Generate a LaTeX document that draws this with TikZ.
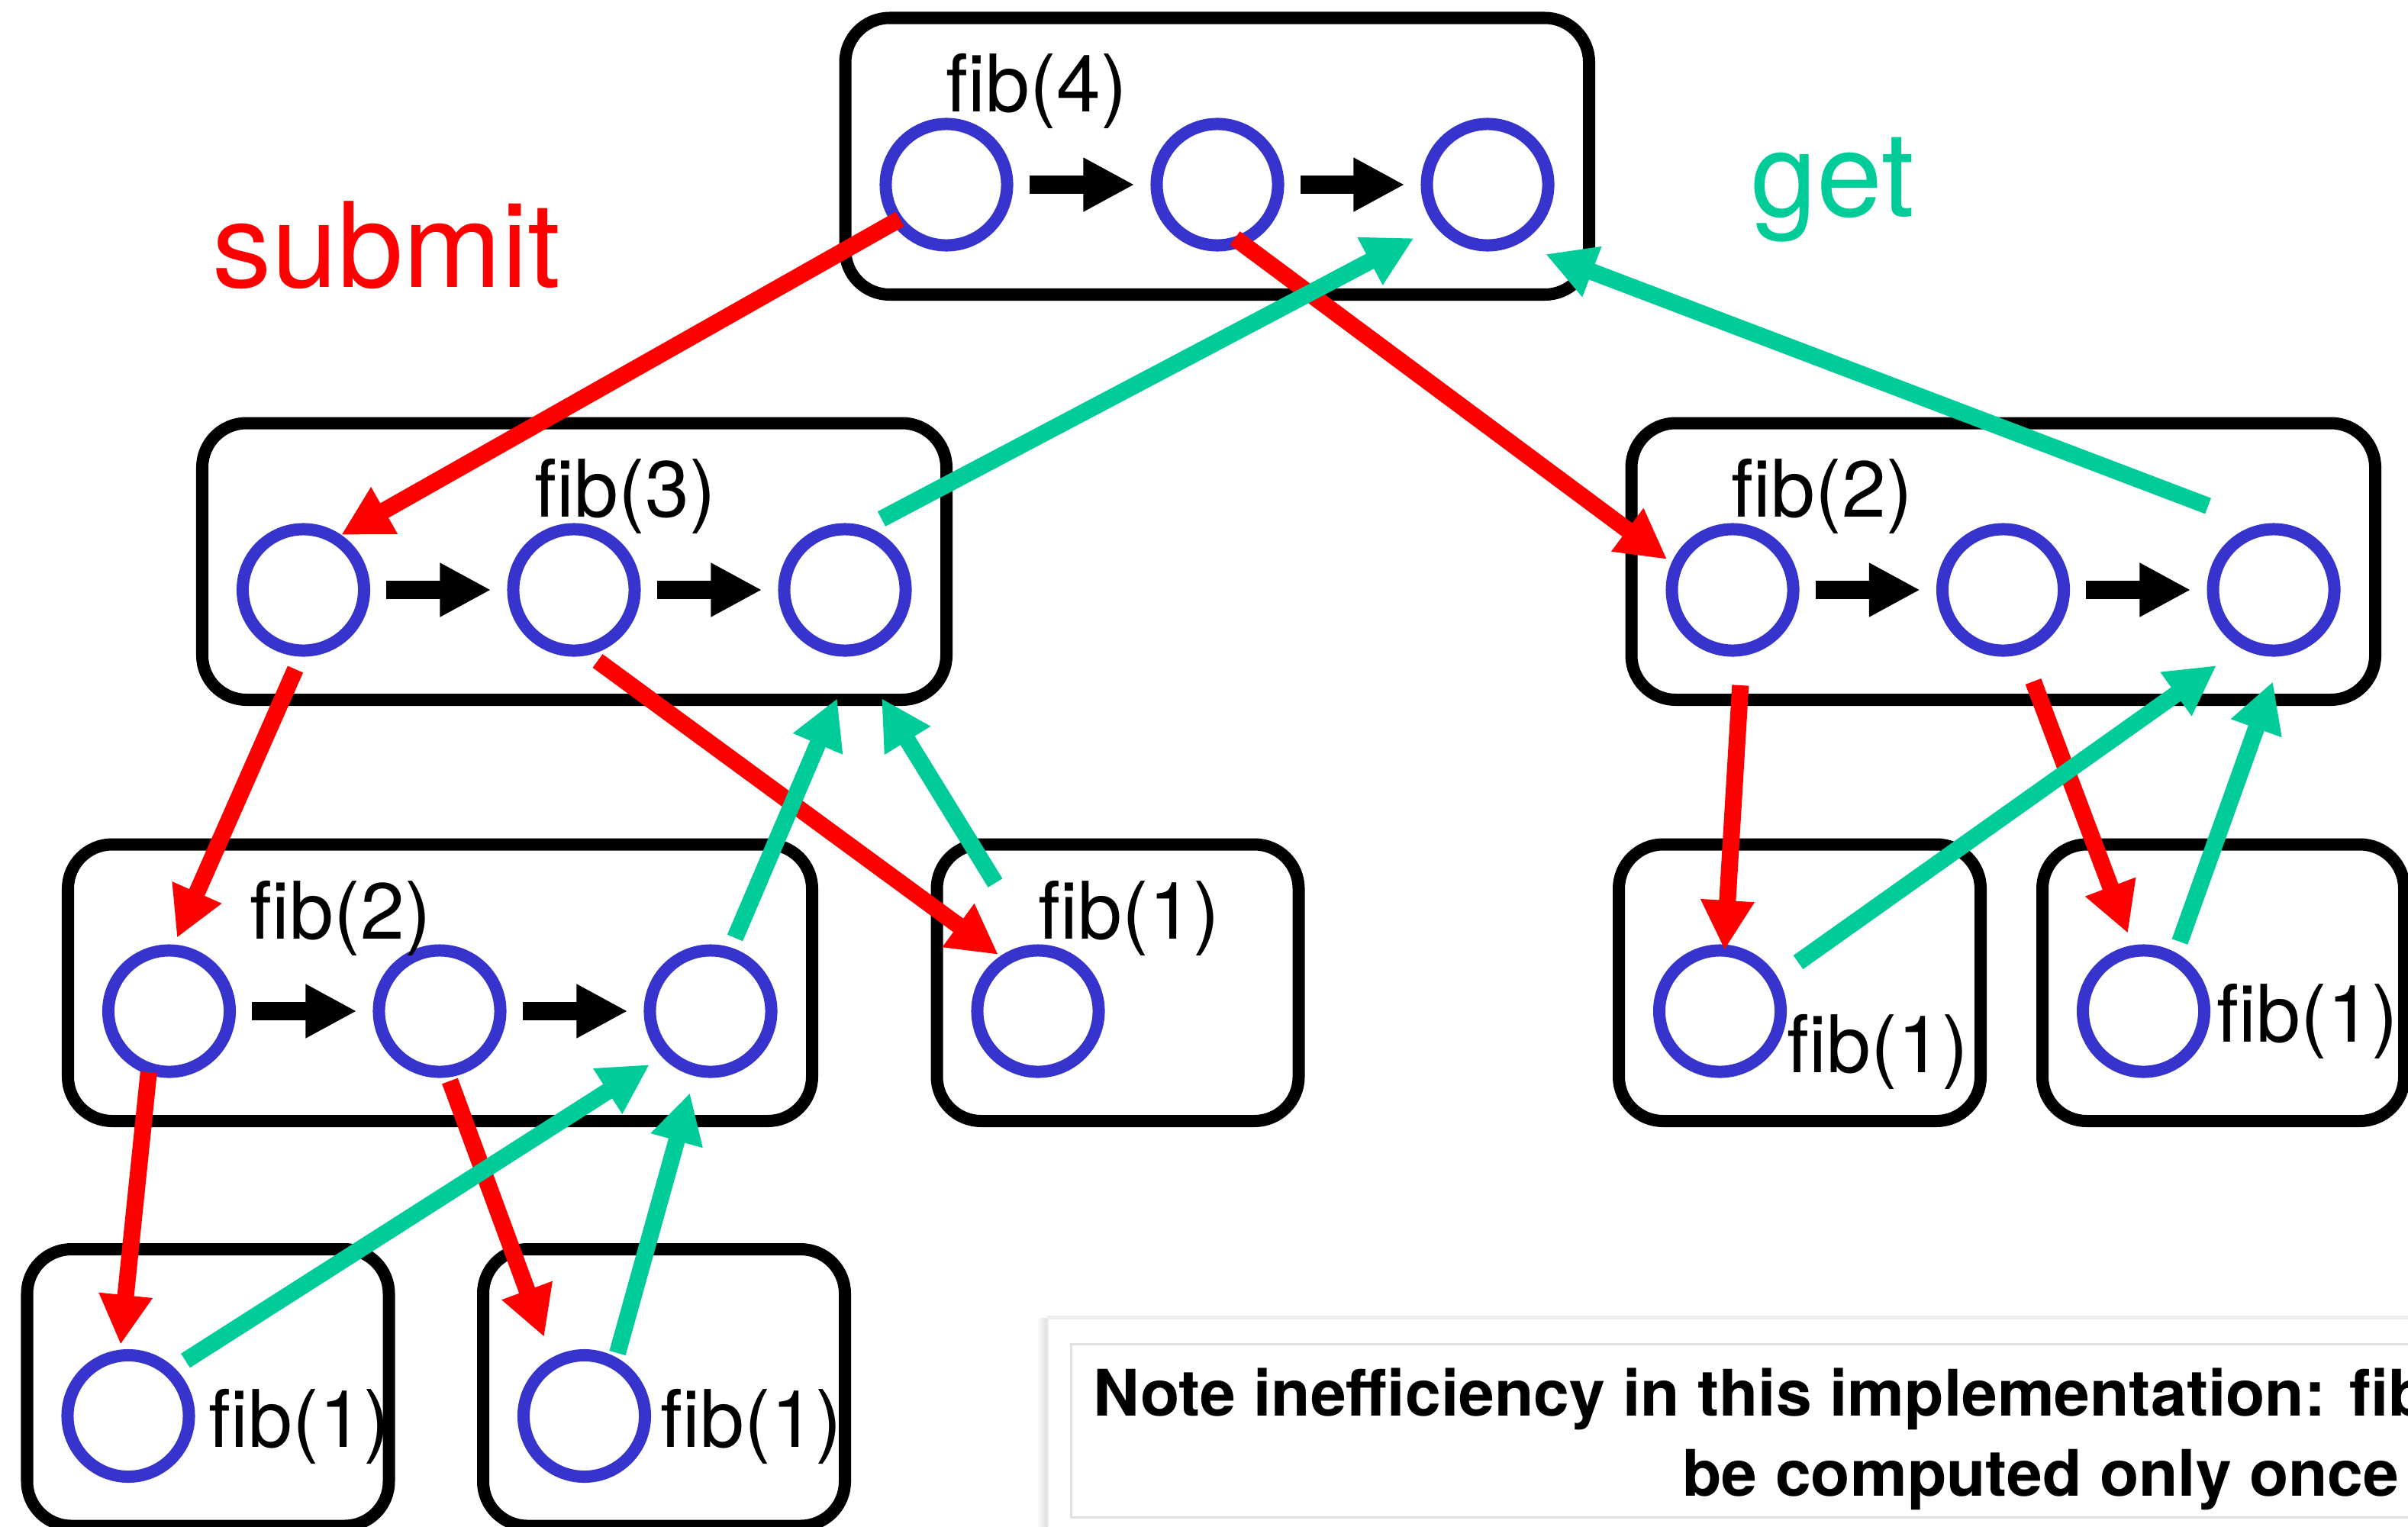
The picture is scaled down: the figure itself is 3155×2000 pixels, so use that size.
\documentclass[tikz,border=0pt]{standalone}
\usepackage{fontspec}
\setmainfont{TeX Gyre Heros}
\usetikzlibrary{arrows.meta,calc}
\definecolor{subred}{RGB}{255,0,0}
\definecolor{getgreen}{RGB}{0,204,153}
\definecolor{futblue}{RGB}{54,52,204}
\begin{document}
\begin{tikzpicture}[x=0.01cm,y=-0.01cm,
  fut/.style={circle,draw=futblue,line width=0.16cm,minimum size=1.59cm,inner sep=0pt},
  frame/.style={draw=black,line width=0.16cm,rounded corners=0.58cm},
  seq/.style={draw=black,line width=0.24cm,-{Triangle[width=0.66cm,length=0.67cm]},
              shorten <=0.21cm,shorten >=0.21cm},
  submitarrow/.style={draw=subred,line width=0.22cm,-{Triangle[width=0.66cm,length=0.65cm]}},
  getarrow/.style={draw=getgreen,line width=0.22cm,-{Triangle[width=0.66cm,length=0.65cm]}},
  lab/.style={anchor=base west,inner sep=0pt,font=\fontsize{29.6}{32}\selectfont},
  big/.style={anchor=base west,inner sep=0pt,font=\fontsize{44}{48}\selectfont},
  notetext/.style={inner sep=0pt,font=\bfseries\fontsize{23.9}{28}\selectfont}]

\useasboundingbox (0,0) rectangle (3155,2000);
\clip (0,0) rectangle (3155,2000);
\fill[white] (0,0) rectangle (3155,2000);

% task circles
\node[fut] (A1) at (1240,242) {};
\node[fut] (A2) at (1595,242) {};
\node[fut] (A3) at (1949,242) {};
\node[fut] (B1) at (397.5,773) {};
\node[fut] (B2) at (752,773) {};
\node[fut] (B3) at (1107,773) {};
\node[fut] (C1) at (2270,773) {};
\node[fut] (C2) at (2624.5,773) {};
\node[fut] (C3) at (2979,773) {};
\node[fut] (D1) at (221.5,1325) {};
\node[fut] (D2) at (576,1325) {};
\node[fut] (D3) at (931,1325) {};
\node[fut] (E1) at (1360,1325) {};
\node[fut] (F1) at (168,1855.5) {};
\node[fut] (G1) at (765.5,1855.5) {};
\node[fut] (H1) at (2253.5,1325) {};
\node[fut] (I1) at (2808.5,1325) {};

% frames round each call
\draw[frame] ($(A1)+(-132.5,-218.5)$) rectangle ($(A3)+(133,144)$);
\draw[frame] ($(B1)+(-132.5,-218.5)$) rectangle ($(B3)+(133,144)$);
\draw[frame] ($(C1)+(-132.5,-218.5)$) rectangle ($(C3)+(133,144)$);
\draw[frame] ($(D1)+(-132.5,-218.5)$) rectangle ($(D3)+(133,144)$);
\foreach \n in {E1,F1,G1,H1,I1}
  \draw[frame] ($(\n)+(-132.5,-218.5)$) rectangle ($(\n)+(341.5,144)$);

% sequence inside a call
\draw[seq] (A1.east) -- (A2.west);
\draw[seq] (A2.east) -- (A3.west);
\draw[seq] (B1.east) -- (B2.west);
\draw[seq] (B2.east) -- (B3.west);
\draw[seq] (C1.east) -- (C2.west);
\draw[seq] (C2.east) -- (C3.west);
\draw[seq] (D1.east) -- (D2.west);
\draw[seq] (D2.east) -- (D3.west);

% labels
\node[lab] (l4) at (1239,147) {fib(4)};
\node[lab] (l3) at (700,677) {fib(3)};
\node[lab] (l2r) at (2268,677) {fib(2)};
\node[lab] (l2l) at (327,1230) {fib(2)};
\node[lab] (l1e) at (1360,1230) {fib(1)};
\node[lab] (l1f) at (273,1896) {fib(1)};
\node[lab] (l1g) at (865,1896) {fib(1)};
\node[lab] (l1h) at (2341,1405) {fib(1)};
\node[lab] (l1i) at (2904,1365) {fib(1)};
\node[big,text=subred] (sub) at (278,376) {submit};
\node[big,text=getgreen] (get) at (2294,284) {get};

% submit
\draw[submitarrow] ($(A1)+(-61,45)$) -- ($(B1)+(49.5,-72)$);
\draw[submitarrow] ($(A2)+(23,70)$) -- ($(C1)+(-85.7,-40)$);
\draw[submitarrow] ($(B1)+(-10.5,104)$) -- ($(D1)+(10.3,-96)$);
\draw[submitarrow] ($(B2)+(31,93)$) -- ($(E1)+(-52,-74)$);
\draw[submitarrow] ($(C1)+(10.3,125)$) -- ($(H1)+(6,-80)$);
\draw[submitarrow] ($(C2)+(39.5,120)$) -- ($(I1)+(-20.5,-102)$);
\draw[submitarrow] ($(D1)+(-26.7,80)$) -- ($(F1)+(-10,-93.5)$);
\draw[submitarrow] ($(D2)+(13.5,91.5)$) -- ($(G1)+(-52.5,-103.5)$);

% get
\draw[getarrow] ($(B3)+(48,-93)$) -- ($(A3)+(-96.5,70)$);
\draw[getarrow] ($(C3)+(-86,-110)$) -- ($(A3)+(76,91)$);
\draw[getarrow] ($(E1)+(-56,-168)$) -- ($(B3)+(48,142)$);
\draw[getarrow] ($(D3)+(32,-96)$) -- ($(B3)+(-10,142)$);
\draw[getarrow] ($(F1)+(75,-72.5)$) -- ($(D3)+(-80,70)$);
\draw[getarrow] ($(G1)+(43.5,-82.5)$) -- ($(D3)+(-27,107)$);
\draw[getarrow] ($(H1)+(102.5,-64)$) -- ($(C3)+(-75,99)$);
\draw[getarrow] ($(I1)+(47.5,-91)$) -- ($(C3)+(-1,120)$);

% note card
\shade[left color=white,right color=black!14] (1358,1727) rectangle (1373,2000);
\fill[black!7] (1372,1724) rectangle (3155,2000);
\fill[white] (1374,1729) rectangle (3155,2000);
\draw[black!12,line width=0.03cm] (1403,1761) rectangle (3180,1988);
\node[notetext,anchor=base west] (n1) at (1432,1855) {Note inefficiency in this implementation: fib};
\node[notetext,anchor=base east] (n2) at (3144,1960) {be computed only once};
\end{tikzpicture}
\end{document}
